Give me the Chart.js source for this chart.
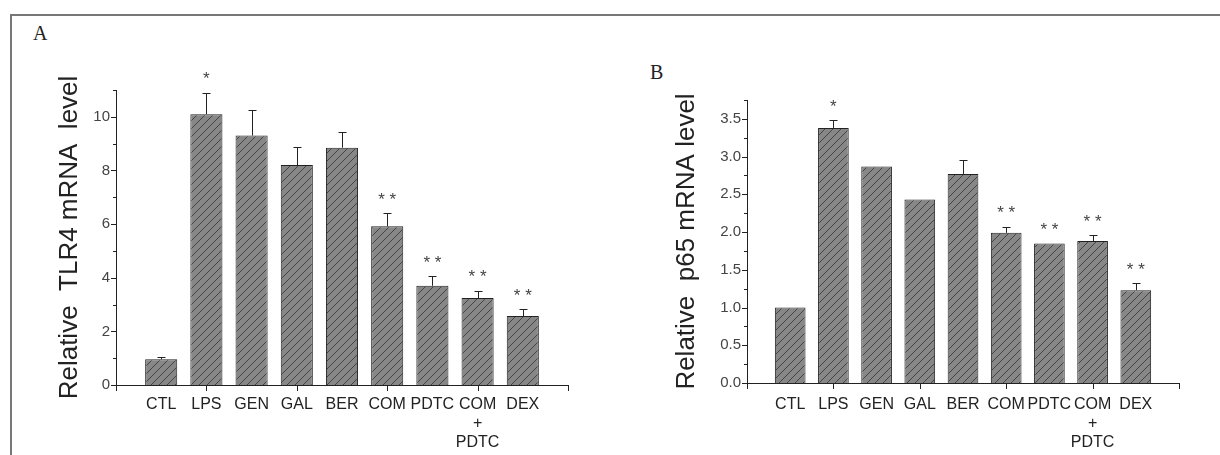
<!DOCTYPE html>
<html>
<head>
<meta charset="utf-8">
<script src="https://cdn.jsdelivr.net/npm/chart.js@4.4.1/dist/chart.umd.min.js"></script>
<style>
  html, body { margin: 0; padding: 0; background: #fff; }
  body { width: 1220px; height: 455px; position: relative; overflow: hidden; }
  .frame { position: absolute; left: 10px; top: 14px; width: 1220px; height: 460px;
           border-top: 2px solid #777; border-left: 2px solid #777; box-sizing: border-box; }
  .panel { position: absolute; top: 0; width: 610px; height: 455px; }
  .tag { position: absolute; font-family: "Liberation Serif", "DejaVu Serif", serif; font-size: 20px; color: #222; }
</style>
</head>
<body>
<div class="frame"></div>
<div class="tag" style="left:33px; top:22px;">A</div>
<div class="tag" style="left:650px; top:61px;">B</div>
<div class="panel" style="left:0px;"><canvas id="chartA"></canvas></div>
<div class="panel" style="left:610px;"><canvas id="chartB"></canvas></div>
<script>
// groups on the x axis
const categories = ['CTL', 'LPS', 'GEN', 'GAL', 'BER', 'COM', 'PDTC', ['COM', '+', 'PDTC'], 'DEX'];

// panel A: TLR4 mRNA
const tlr4Values = [0.96, 10.1, 9.3, 8.2, 8.85, 5.92, 3.7, 3.24, 2.57];
const tlr4Errors = [0.09, 0.8, 0.94, 0.66, 0.57, 0.48, 0.35, 0.28, 0.27];
const tlr4Marks  = ['', '*', '', '', '', '* *', '* *', '* *', '* *'];
const tlr4TickLabels = [0, 2, 4, 6, 8, 10];

// panel B: p65 mRNA
const p65Values = [1.0, 3.38, 2.87, 2.43, 2.77, 1.99, 1.85, 1.88, 1.23];
const p65Errors = [0, 0.1, 0, 0, 0.19, 0.08, 0, 0.08, 0.09];
const p65Marks  = ['', '*', '', '', '', '* *', '* *', '* *', '* *'];
const p65TickLabels = [0, 0.5, 1.0, 1.5, 2.0, 2.5, 3.0, 3.5];

// origin-style axis: one empty slot before and after the groups
const axisLabels = [''].concat(categories, ['']);
function padded(arr) { return [null].concat(arr, [null]); }

function hatch() {
  const c = document.createElement('canvas');
  c.width = 8; c.height = 8;
  const g = c.getContext('2d');
  g.fillStyle = '#878787';
  g.fillRect(0, 0, 8, 8);
  g.strokeStyle = '#444';
  g.lineWidth = 1;
  g.beginPath();
  g.moveTo(-1, 9); g.lineTo(9, -1);
  g.moveTo(-1, 1); g.lineTo(1, -1);
  g.moveTo(7, 9); g.lineTo(9, 7);
  g.stroke();
  return g.createPattern(c, 'repeat');
}

const extras = {
  id: 'extras',
  afterDatasetsDraw(chart, args, opts) {
    const ctx = chart.ctx;
    const x = chart.scales.x, y = chart.scales.y;
    const meta = chart.getDatasetMeta(0);
    ctx.save();
    ctx.strokeStyle = '#222';
    ctx.lineWidth = 1;
    // error bars (upper only)
    opts.values.forEach((v, i) => {
      const e = opts.errors[i];
      if (!e) return;
      const bx = Math.round(meta.data[i + 1].x) + 0.5;
      const y0 = y.getPixelForValue(v);
      const y1 = Math.round(y.getPixelForValue(v + e)) + 0.5;
      ctx.beginPath();
      ctx.moveTo(bx, y0); ctx.lineTo(bx, y1);
      ctx.moveTo(bx - 4, y1); ctx.lineTo(bx + 4, y1);
      ctx.stroke();
    });
    // significance marks
    ctx.fillStyle = '#444';
    ctx.font = '17px "Liberation Sans", Arial, sans-serif';
    ctx.textAlign = 'center';
    ctx.textBaseline = 'middle';
    opts.marks.forEach((m, i) => {
      if (!m) return;
      const top = opts.values[i] + (opts.errors[i] || 0);
      ctx.fillText(m, meta.data[i + 1].x, y.getPixelForValue(top) - 13);
    });
    // tick marks, outward
    ctx.strokeStyle = '#222';
    y.ticks.forEach(t => {
      const py = Math.round(y.getPixelForValue(t.value)) + 0.5;
      const len = opts.majors.some(m => Math.abs(m - t.value) < 1e-6) ? 5 : 3;
      ctx.beginPath();
      ctx.moveTo(y.right, py); ctx.lineTo(y.right - len, py);
      ctx.stroke();
    });
    for (let i = 0; i < axisLabels.length; i += 2) {
      const px = Math.round(x.getPixelForTick(i)) + 0.5;
      ctx.beginPath();
      ctx.moveTo(px, x.top); ctx.lineTo(px, x.top + 6);
      ctx.stroke();
    }
    ctx.restore();
  }
};

function makeChart(canvasId, values, errors, marks, majors, yMax, step, title, area) {
  const fmt = step < 1 ? (v => v.toFixed(1)) : (v => String(v));
  return new Chart(document.getElementById(canvasId), {
    type: 'bar',
    data: {
      labels: axisLabels,
      datasets: [{
        data: padded(values),
        backgroundColor: hatch(),
        borderColor: '#222',
        borderWidth: 1,
        categoryPercentage: 1,
        barPercentage: 0.71
      }]
    },
    options: {
      responsive: true,
      maintainAspectRatio: false,
      animation: false,
      events: [],
      layout: { padding: { left: 0, right: area.right, top: area.top, bottom: 0 } },
      plugins: {
        legend: { display: false },
        tooltip: { enabled: false },
        extras: { values: values, errors: errors, marks: marks, majors: majors }
      },
      scales: {
        x: {
          type: 'category',
          offset: false,
          grid: { display: false, drawTicks: false },
          border: { color: '#222', width: 1 },
          ticks: {
            autoSkip: false, maxRotation: 0, padding: area.xPad,
            color: '#222',
            font: { family: '"Liberation Sans", Arial, sans-serif', size: 16, lineHeight: 1.2 }
          },
          afterFit(s) { s.height = area.xHeight; }
        },
        y: {
          min: 0, max: yMax,
          grid: { display: false, drawTicks: false },
          border: { color: '#222', width: 1 },
          ticks: {
            stepSize: step, autoSkip: false, padding: 6,
            color: '#444',
            font: { family: '"Liberation Sans", Arial, sans-serif', size: 15 },
            callback: v => majors.some(m => Math.abs(m - v) < 1e-6) ? fmt(v) : ''
          },
          title: {
            display: true, text: title, color: '#222',
            font: { family: '"Liberation Sans", Arial, sans-serif', size: 26, lineHeight: 1 },
            padding: { top: area.titleOffset, bottom: 0 }
          },
          afterFit(s) { s.width = area.yWidth; }
        }
      }
    },
    plugins: [extras]
  });
}

makeChart('chartA', tlr4Values, tlr4Errors, tlr4Marks, tlr4TickLabels, 11, 1,
  'Relative  TLR4 mRNA  level',
  { right: 42, top: 90, xHeight: 70, yWidth: 116, xPad: 10, titleOffset: 57 });

makeChart('chartB', p65Values, p65Errors, p65Marks, p65TickLabels, 3.75, 0.25,
  'Relative  p65 mRNA level',
  { right: 41, top: 100, xHeight: 72, yWidth: 137, xPad: 12, titleOffset: 64 });
</script>
</body>
</html>
